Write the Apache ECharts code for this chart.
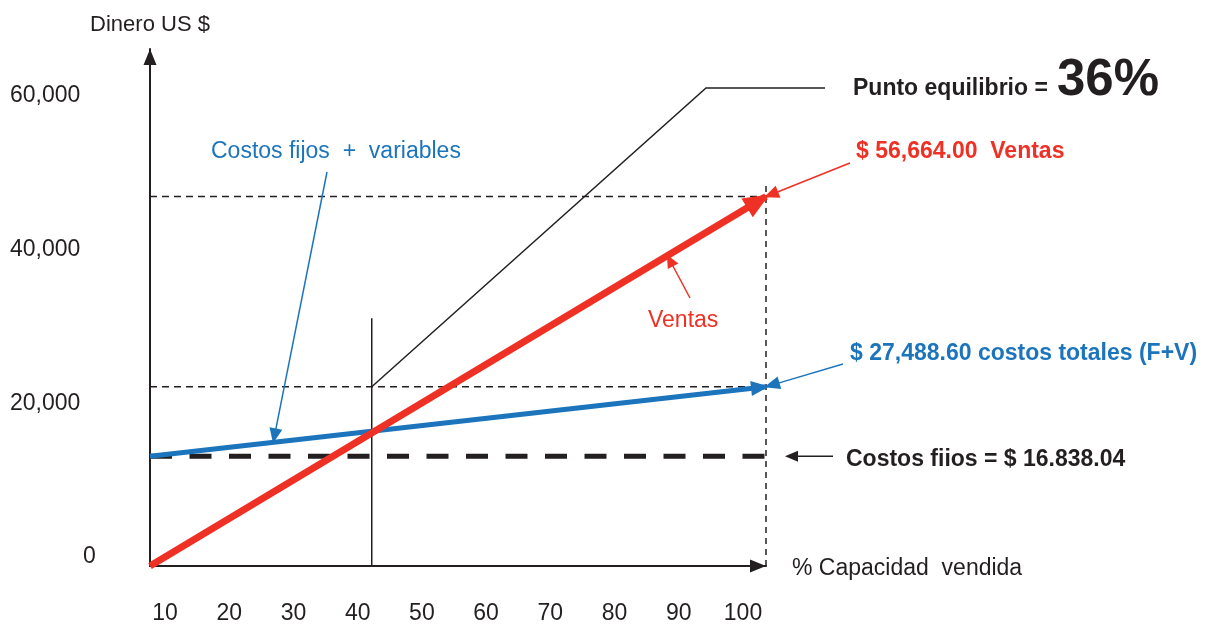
<!DOCTYPE html>
<html>
<head>
<meta charset="utf-8">
<script src="https://cdn.jsdelivr.net/npm/echarts@6/dist/echarts.min.js"></script>
<style>
  html, body { margin: 0; padding: 0; background: #ffffff; }
  #chart { width: 1205px; height: 625px; }
</style>
</head>
<body>
<div id="chart"></div>
<script>
// ---- Break-even data ----
const capacityPct      = [0, 100];              // % capacidad vendida (start, end)
const salesValues      = [0, 56664.00];         // Ventas
const totalCostValues  = [16838.04, 27488.60];  // Costos fijos + variables
const fixedCostValues  = [16838.04, 16838.04];  // Costos fijos
const breakEvenPct     = 36;                    // Punto de equilibrio (%)
const xTickLabels = ['10', '20', '30', '40', '50', '60', '70', '80', '90', '100'];
const yTickLabels = ['0', '20,000', '40,000', '60,000'];

// ---- Styling ----
const FONT = '"Liberation Sans", Arial, Helvetica, sans-serif';
const INK = '#231f20';
const RED = '#ee3124';
const BLUE = '#1c75bc';

const pairs = (xs, ys) => xs.map((x, i) => [x, ys[i]]);
const salesEnd = salesValues[salesValues.length - 1];
const totalEnd = totalCostValues[totalCostValues.length - 1];
const xEnd = capacityPct[capacityPct.length - 1];

// vertical extents of the two reference verticals (in dollars)
const breakEvenLineTop = 38000;
const fullCapacityLineTop = 59000;

const baseLine = { type: 'line', xAxisIndex: 0, yAxisIndex: 0, symbol: 'none', silent: true, clip: false, animation: false };

const option = {
  animation: false,
  backgroundColor: '#ffffff',
  grid: [
    { left: 150, top: 49, width: 616, height: 517 },   // plotting frame
    { left: 165, top: 96, width: 578, height: 464 }    // tick-label frame
  ],
  xAxis: [
    {
      gridIndex: 0, type: 'value', min: 0, max: 100,
      axisLine: { show: true, onZero: false, lineStyle: { color: INK, width: 2 },
                  symbol: ['none', 'triangle'], symbolSize: [13, 16], symbolOffset: [0, -8] },
      axisTick: { show: false }, axisLabel: { show: false }, splitLine: { show: false },
      name: '% Capacidad  vendida', nameLocation: 'end', nameGap: 26,
      nameTextStyle: { fontFamily: FONT, fontSize: 23, color: INK, verticalAlign: 'top', lineHeight: 6 }
    },
    {
      gridIndex: 1, type: 'category', data: xTickLabels, boundaryGap: false,
      axisLine: { show: false }, axisTick: { show: false }, splitLine: { show: false },
      axisLabel: { interval: 0, margin: 45, fontFamily: FONT, fontSize: 23, color: INK }
    }
  ],
  yAxis: [
    {
      gridIndex: 0, type: 'value', min: 0, max: 79300,
      axisLine: { show: true, onZero: false, lineStyle: { color: INK, width: 2 },
                  symbol: ['none', 'triangle'], symbolSize: [13, 16], symbolOffset: [0, -8] },
      axisTick: { show: false }, axisLabel: { show: false }, splitLine: { show: false },
      name: 'Dinero US $', nameLocation: 'end', nameGap: 13,
      nameTextStyle: { fontFamily: FONT, fontSize: 22, color: INK, align: 'center' }
    },
    {
      gridIndex: 1, type: 'category', data: yTickLabels, boundaryGap: false,
      axisLine: { show: false }, axisTick: { show: false }, splitLine: { show: false },
      axisLabel: {
        interval: 0, margin: 155, align: 'left', fontFamily: FONT, fontSize: 23, color: INK,
        formatter: v => (v === yTickLabels[0] ? '{zero|' + v + '}' : v),
        rich: { zero: { padding: [0, 0, 0, 73], fontFamily: FONT, fontSize: 23, color: INK } }
      }
    }
  ],
  series: [
    // guide at the sales total
    Object.assign({}, baseLine, {
      name: 'guia ventas', z: 1,
      data: [[capacityPct[0], salesEnd], [xEnd, salesEnd]],
      lineStyle: { color: INK, width: 1.5, type: [7, 5] }
    }),
    // guide at the total cost
    Object.assign({}, baseLine, {
      name: 'guia costos', z: 1,
      data: [[capacityPct[0], totalEnd], [xEnd, totalEnd]],
      lineStyle: { color: INK, width: 1.5, type: [7, 5] }
    }),
    // 100 % capacity
    Object.assign({}, baseLine, {
      name: 'capacidad total', z: 1,
      data: [[xEnd, 0], [xEnd, fullCapacityLineTop]],
      lineStyle: { color: INK, width: 1.5, type: [6, 5] }
    }),
    // break-even vertical
    Object.assign({}, baseLine, {
      name: 'punto equilibrio', z: 2,
      data: [[breakEvenPct, 0], [breakEvenPct, breakEvenLineTop]],
      lineStyle: { color: INK, width: 1.5 }
    }),
    // fixed costs
    Object.assign({}, baseLine, {
      name: 'Costos fijos', z: 3,
      data: pairs(capacityPct, fixedCostValues),
      lineStyle: { color: INK, width: 5, type: [22, 17.5] }
    }),
    // total costs
    Object.assign({}, baseLine, {
      name: 'Costos totales', z: 4,
      data: pairs(capacityPct, totalCostValues),
      lineStyle: { color: BLUE, width: 5 }
    }),
    // sales
    Object.assign({}, baseLine, {
      name: 'Ventas', z: 5,
      data: pairs(capacityPct, salesValues),
      lineStyle: { color: RED, width: 7 }
    })
  ]
};

const chart = echarts.init(document.getElementById('chart'), null, { renderer: 'canvas' });
chart.setOption(option);

// ---- Annotations ----
const toPx = (x, y) => chart.convertToPixel({ seriesIndex: 0 }, [x, y]);
const lerp = (vals, pct) => vals[0] + (vals[1] - vals[0]) * (pct - capacityPct[0]) / (xEnd - capacityPct[0]);

function arrow(from, tip, o) {
  const dx = tip[0] - from[0], dy = tip[1] - from[1];
  const d = Math.hypot(dx, dy), ux = dx / d, uy = dy / d;
  const ext = o.extend || 0;
  const T = [tip[0] + ux * ext, tip[1] + uy * ext];
  const B = [T[0] - ux * o.len, T[1] - uy * o.len];
  const nx = -uy, ny = ux, hw = o.wid / 2;
  const els = [];
  if (o.shaft) {
    els.push({ type: 'line', z: 100, silent: true,
      shape: { x1: from[0], y1: from[1], x2: B[0] + ux * 2, y2: B[1] + uy * 2 },
      style: { stroke: o.color, lineWidth: o.shaft } });
  }
  els.push({ type: 'polygon', z: 101, silent: true,
    shape: { points: [T, [B[0] + nx * hw, B[1] + ny * hw], [B[0] - nx * hw, B[1] - ny * hw]] },
    style: { fill: o.color } });
  return els;
}

function text(str, x, y, size, color, weight) {
  return { type: 'text', z: 102, silent: true, x: x, y: y,
    style: { text: str, fill: color, font: (weight || 'normal') + ' ' + size + 'px ' + FONT,
             align: 'left', verticalAlign: 'middle' } };
}

const salesStart = toPx(capacityPct[0], salesValues[0]);
const salesTip = toPx(xEnd, salesEnd);
const costStart = toPx(capacityPct[0], totalCostValues[0]);
const costTip = toPx(xEnd, totalEnd);
const fixedEnd = toPx(xEnd, fixedCostValues[1]);
const bePoint = toPx(breakEvenPct, totalEnd);
const costMark = toPx(20, lerp(totalCostValues, 20));
const salesMark = toPx(84, lerp(salesValues, 84));

const graphics = [].concat(
  // arrowheads on the two main lines
  arrow(salesStart, salesTip, { len: 26, wid: 22, extend: 4, color: RED }),
  arrow(costStart, costTip, { len: 18, wid: 15, extend: 3, color: BLUE }),

  // break-even leader
  [{ type: 'polyline', z: 100, silent: true,
     shape: { points: [bePoint, [706, 88], [825, 88]] },
     style: { stroke: INK, lineWidth: 1.5, fill: null } }],
  [text('Punto equilibrio =', 853, 89, 23, INK, 'bold'),
   text(breakEvenPct + '%', 1057, 81, 51, INK, 'bold')],

  // sales total
  arrow([850, 163], salesTip, { len: 15, wid: 13, extend: 2, color: RED, shaft: 1.5 }),
  [text('$ 56,664.00  Ventas', 856, 152, 23, RED, 'bold')],

  // total cost
  arrow([843, 364], costTip, { len: 16, wid: 13, extend: 2, color: BLUE, shaft: 1.5 }),
  [text('$ 27,488.60 costos totales (F+V)', 850, 354, 23, BLUE, 'bold')],

  // fixed costs
  arrow([833, fixedEnd[1]], [785, fixedEnd[1]], { len: 13, wid: 11, color: INK, shaft: 1.5 }),
  [text('Costos fiios = $ 16.838.04', 846, fixedEnd[1] + 3, 23, INK, 'bold')],

  // line captions
  arrow([327, 172], costMark, { len: 15, wid: 13, extend: 1, color: BLUE, shaft: 1.5 }),
  [text('Costos fijos  +  variables', 211, 152, 23, BLUE)],
  arrow([690, 298], salesMark, { len: 13, wid: 12, extend: 1, color: RED, shaft: 1.5 }),
  [text('Ventas', 648, 321, 23, RED)]
);

chart.setOption({ graphic: { elements: graphics } });
</script>
</body>
</html>
